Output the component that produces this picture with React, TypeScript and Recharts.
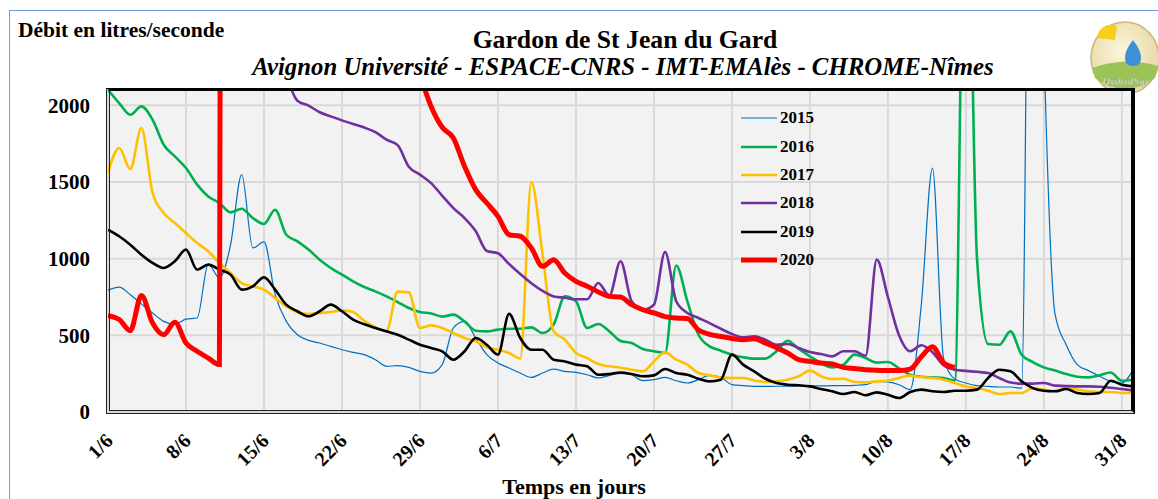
import React from 'react';
import { LineChart, Line, XAxis, YAxis, CartesianGrid, Legend } from 'recharts';

const SERIF = '"Liberation Serif", "Times New Roman", serif';

// jours depuis le 1er juin (0 = 1/6, 92 = 1/9)
const days = Array.from({ length: 93 }, (_, i) => i);
const tickDays = [0, 7, 14, 21, 28, 35, 42, 49, 56, 63, 70, 77, 84, 91];
const tickLabels = ['1/6', '8/6', '15/6', '22/6', '29/6', '6/7', '13/7', '20/7', '27/7', '3/8', '10/8', '17/8', '24/8', '31/8'];
const yTicks = [0, 500, 1000, 1500, 2000];

const q2015 = [
  795, 815, 765, 705, 646, 591, 572, 606, 613, 965,
  874, 1090, 1548, 1070, 1109, 765, 591, 504, 467, 450,
  428, 406, 389, 374, 341, 298, 302, 291, 265, 254,
  309, 548, 591, 483, 374, 320, 287, 254, 226, 254,
  280, 265, 258, 243, 222, 239, 258, 243, 204, 211,
  226, 204, 189, 211, 239, 226, 178, 172, 167, 167,
  168, 168, 170, 170, 170, 172, 172, 174, 178, 200,
  196, 178, 146, 700, 1591, 350, 215, 189, 172, 167,
  163, 163, 156, 6000, 2400, 640, 439, 309, 270, 233,
  200, 189, 276,
];

const q2016 = [
  2100, 2015, 1939, 1993, 1906, 1743, 1667, 1591, 1483, 1406,
  1363, 1302, 1326, 1265, 1226, 1319, 1156, 1113, 1059, 993,
  939, 896, 852, 815, 787, 754, 717, 678, 652, 643,
  622, 635, 591, 530, 526, 537, 543, 543, 552, 515,
  570, 754, 722, 548, 574, 526, 463, 450, 411, 396,
  385, 955, 722, 504, 428, 400, 374, 357, 348, 348,
  396, 465, 411, 363, 319, 291, 309, 374, 352, 322,
  326, 285, 243, 230, 226, 222, 205, 4000, 1000, 443,
  439, 526, 374, 326, 291, 270, 248, 230, 226, 240,
  258, 204, 209,
];

const q2017 = [
  1559, 1722, 1585, 1852, 1430, 1298, 1233, 1167, 1102, 1048,
  972, 906, 841, 820, 798, 743, 689, 652, 639, 646,
  652, 663, 652, 594, 552, 530, 785, 780, 548, 565,
  548, 515, 483, 461, 422, 406, 385, 348, 1500, 1030,
  526, 472, 385, 352, 313, 298, 289, 276, 265, 330,
  389, 341, 309, 254, 239, 226, 222, 222, 206, 196,
  200, 211, 233, 270, 233, 215, 217, 196, 193, 200,
  204, 222, 237, 228, 222, 211, 189, 167, 156, 139,
  117, 124, 124, 156, 146, 139, 156, 146, 135, 130,
  130, 124, 124,
];

const q2018 = [
  null, null, null, null, null, null, null, null, null, null,
  null, null, null, null, null, null, 2200, 2030, 1998, 1955,
  1928, 1902, 1878, 1855, 1825, 1776, 1740, 1600, 1548, 1493,
  1410, 1330, 1265, 1180, 1050, 1035, 965, 900, 840, 790,
  754, 745, 735, 735, 841, 760, 983, 722, 667, 700,
  1043, 722, 646, 613, 580, 543, 509, 487, 494, 472,
  439, 443, 417, 391, 378, 363, 396, 396, 367, 994,
  750, 500, 396, 435, 390, 305, 276, 268, 262, 254,
  222, 192, 185, 185, 189, 172, 170, 167, 167, 165,
  158, 150, 141,
];

const q2019 = [
  1189, 1146, 1091, 1026, 972, 939, 983, 1059, 928, 961,
  928, 896, 798, 820, 878, 798, 700, 657, 624, 657,
  700, 657, 602, 572, 548, 526, 504, 472, 439, 417,
  396, 341, 396, 483, 439, 374, 640, 483, 406, 406,
  341, 330, 309, 298, 243, 248, 257, 248, 233, 239,
  280, 254, 243, 217, 200, 211, 374, 309, 265, 217,
  189, 178, 174, 167, 150, 135, 117, 130, 109, 128,
  113, 91, 130, 146, 135, 130, 139, 139, 146, 222,
  276, 265, 200, 156, 139, 135, 150, 124, 117, 124,
  204, 178, 167,
];

const q2020 = [
  628, 603, 530, 760, 580, 504, 585, 450, 396, 352,
  309, 30000, null, null, null, null, null, null, null, null,
  null, null, null, null, null, null, null, null, 2200, 1993,
  1857, 1787, 1602, 1450, 1363, 1276, 1156, 1146, 1070, 950,
  993, 906, 852, 820, 783, 754, 750, 700, 667, 646,
  622, 613, 610, 535, 506, 492, 480, 472, 478, 450,
  420, 385, 341, 330, 319, 313, 291, 283, 276, 272,
  270, 270, 280, 360, 425, 320, 290, null, null, null,
  null, null, null, null, null, null, null, null, null, null,
  null, null, null,
];

const SERIES = [
  { key: '2015', values: q2015, color: '#0070C0', width: 1.2 },
  { key: '2016', values: q2016, color: '#00B050', width: 2.6 },
  { key: '2017', values: q2017, color: '#FFC000', width: 2.6 },
  { key: '2018', values: q2018, color: '#7030A0', width: 2.6 },
  { key: '2019', values: q2019, color: '#000000', width: 2.6 },
  { key: '2020', values: q2020, color: '#FF0000', width: 5 },
];

const data = days.map((d, i) => {
  const row: Record<string, number | null> = { day: d };
  SERIES.forEach((s) => { row[s.key] = s.values[i]; });
  return row;
});

const XTick = ({ x, y, payload }: any) => {
  const idx = tickDays.indexOf(payload.value);
  const ax = x + 6;
  const ay = y + 30;
  return (
    <text x={ax} y={ay} transform={`rotate(-45, ${ax}, ${ay})`} textAnchor="end"
      fontFamily={SERIF} fontWeight="bold" fontSize={20} fill="#000">
      {tickLabels[idx]}
    </text>
  );
};

const YTick = ({ x, y, payload }: any) => (
  <text x={x} y={y} dy="0.35em" textAnchor="end" fontFamily={SERIF} fontWeight="bold" fontSize={21} fill="#000">
    {payload.value}
  </text>
);

const renderLegend = () => (
  <div style={{ fontFamily: SERIF, fontWeight: 'bold', fontSize: 17, color: '#000' }}>
    {SERIES.map((s) => (
      <div key={s.key} style={{ display: 'flex', alignItems: 'center', height: 28.4 }}>
        <svg width={36} height={10}>
          <line x1={0} x2={36} y1={5} y2={5} stroke={s.color} strokeWidth={s.width} />
        </svg>
        <span style={{ marginLeft: 3 }}>{s.key}</span>
      </div>
    ))}
  </div>
);

const Logo = () => (
  <svg width={72} height={76} style={{ position: 'absolute', left: 1089, top: 20 }}>
    <defs>
      <radialGradient id="lg" cx="45%" cy="40%" r="60%">
        <stop offset="0%" stopColor="#fbf6dc" />
        <stop offset="100%" stopColor="#e6d7a4" />
      </radialGradient>
    </defs>
    <ellipse cx={36} cy={38} rx={34} ry={36} fill="url(#lg)" stroke="#cdb47a" strokeWidth={1.5} />
    <path d="M8 18 A 14 14 0 0 1 28 6 L 26 20 Z" fill="#f7cf1a" />
    <path d="M3 48 Q 36 36 69 46 L 66 58 Q 36 80 6 58 Z" fill="#9cc25a" />
    <path d="M44 20 Q 52 30 52 38 Q 52 46 44 46 Q 36 46 36 38 Q 36 30 44 20 Z" fill="#3d8fd6" />
    <text x={36} y={65} textAnchor="middle" fontFamily={SERIF} fontStyle="italic" fontSize={11} fill="#ffffff" stroke="#8aa86a" strokeWidth={0.3}>
      HydroPop
    </text>
  </svg>
);

export default function App() {
  return (
    <div style={{ position: 'absolute', left: 0, top: 0, width: 1158, height: 499, background: '#fff', overflow: 'hidden' }}>
      <div style={{ position: 'absolute', left: 9, top: 10, width: 1170, height: 520, border: '1.5px solid #6f9be0', boxSizing: 'border-box' }} />
      <div style={{ position: 'absolute', left: 18, top: 18, fontFamily: SERIF, fontWeight: 'bold', fontSize: 21.5 }}>
        Débit en litres/seconde
      </div>
      <div style={{ position: 'absolute', left: 0, width: 1250, top: 25, textAlign: 'center', fontFamily: SERIF, fontWeight: 'bold', fontSize: 25.7 }}>
        Gardon de St Jean du Gard
      </div>
      <div style={{ position: 'absolute', left: 0, width: 1246, top: 53, textAlign: 'center', fontFamily: SERIF, fontWeight: 'bold', fontStyle: 'italic', fontSize: 24.8 }}>
        Avignon Université - ESPACE-CNRS - IMT-EMAlès - CHROME-Nîmes
      </div>
      <Logo />
      <div style={{ position: 'absolute', left: 0, top: 0 }}>
        <LineChart width={1158} height={499} data={data} margin={{ top: 90, right: 25, bottom: 57, left: 48 }}>
          <CartesianGrid fill="#f2f2f2" stroke="#d9d9d9" strokeWidth={2} />
          <XAxis dataKey="day" type="number" domain={[0, 92]} ticks={tickDays} interval={0}
            axisLine={false} tickLine={false} tickSize={0} tickMargin={0} height={30} tick={<XTick />} allowDataOverflow />
          <YAxis type="number" domain={[0, 2100]} ticks={yTicks} interval={0} axisLine={false} tickLine={false}
            tickSize={0} tickMargin={18} width={60} tick={<YTick />} allowDataOverflow />
          <Legend layout="vertical" align="center" verticalAlign="middle" content={renderLegend}
            wrapperStyle={{ left: 741, top: 104, width: 'auto', height: 'auto' }} />
          {SERIES.map((s) => (
            <Line key={s.key} type="monotone" dataKey={s.key} stroke={s.color} strokeWidth={s.width}
              dot={false} activeDot={false} isAnimationActive={false} connectNulls={false} />
          ))}
        </LineChart>
      </div>
      <div style={{ position: 'absolute', left: 106, top: 88, width: 1029, height: 326, boxSizing: 'border-box',
        borderTop: '3px solid #000', borderRight: '4px solid #000', borderLeft: '4px double #222', borderBottom: '4px double #222', pointerEvents: 'none' }} />
      <div style={{ position: 'absolute', left: 0, width: 1148, top: 474, textAlign: 'center', fontFamily: SERIF, fontWeight: 'bold', fontSize: 22 }}>
        Temps en jours
      </div>
    </div>
  );
}
